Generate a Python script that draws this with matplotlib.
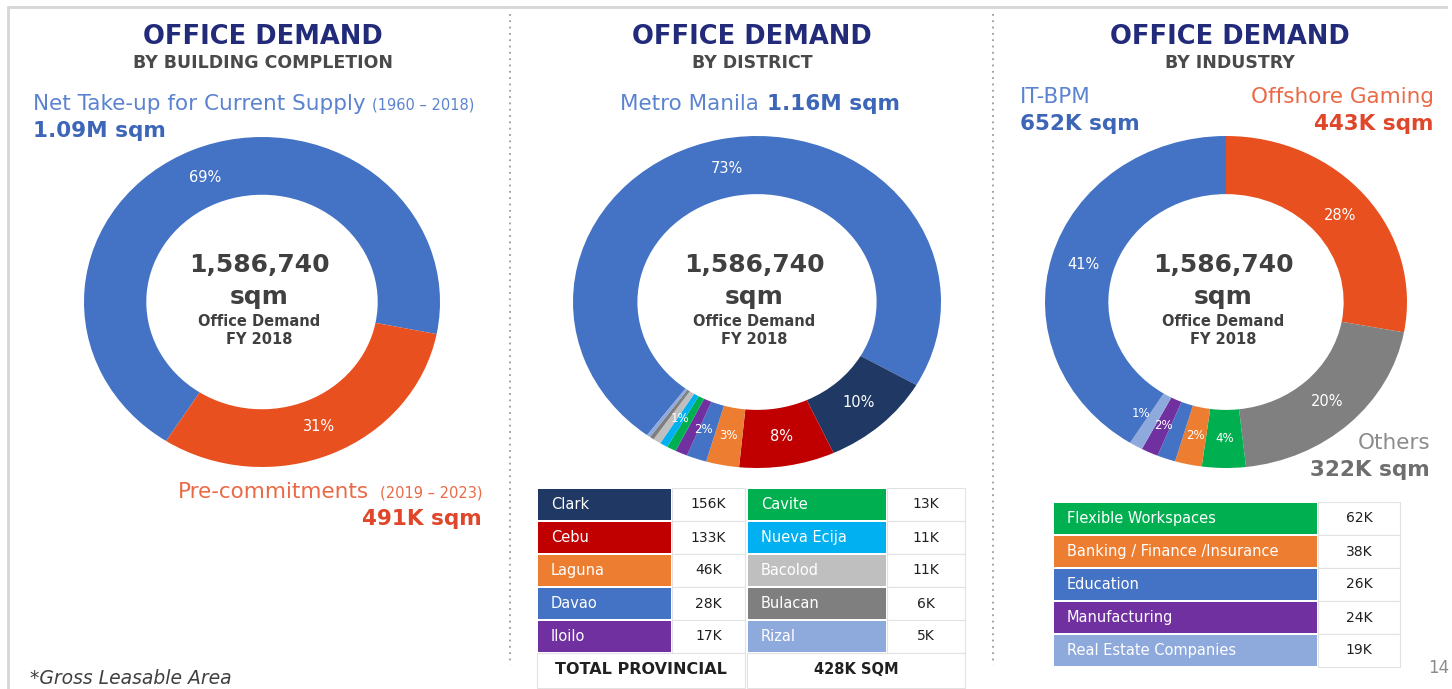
import matplotlib
matplotlib.use("Agg")
import matplotlib.pyplot as plt
from matplotlib.patches import Rectangle
import numpy as np

W, H = 1452, 689

# office demand, thousand sqm
total_label = '1,586,740'

completion_values = [1096, 491]
completion_pct = ['69%', '31%']
completion_colors = ['#4472C4', '#E8511F']

district_names = ['Metro Manila', 'Clark', 'Cebu', 'Laguna', 'Davao', 'Iloilo',
                  'Cavite', 'Nueva Ecija', 'Bacolod', 'Bulacan', 'Rizal']
district_values = [1160, 156, 133, 46, 28, 17, 13, 11, 11, 6, 5]
district_pct = ['73%', '10%', '8%', '3%', '2%', '1%', '', '', '', '', '']
district_colors = ['#4472C4', '#1F3864', '#C00000', '#ED7D31', '#4472C4', '#7030A0',
                   '#00B050', '#00B0F0', '#BFBFBF', '#7F7F7F', '#8EA9DB']
provincial_total = '428K SQM'

industry_names = ['Offshore Gaming', 'Others', 'Flexible Workspaces',
                  'Banking / Finance /Insurance', 'Education', 'Manufacturing',
                  'Real Estate Companies', 'IT-BPM']
industry_values = [443, 322, 62, 38, 26, 24, 19, 652]
industry_pct = ['28%', '20%', '4%', '2%', '', '2%', '1%', '41%']
industry_colors = ['#E8511F', '#808080', '#00B050', '#ED7D31', '#4472C4', '#7030A0',
                   '#8EA9DB', '#4472C4']

navy = '#222A7A'
grey_txt = '#404040'

fig = plt.figure(figsize=(W / 100, H / 100), dpi=100)
fig.patch.set_facecolor('white')
bg = fig.add_axes([0, 0, 1, 1])
bg.set_xlim(0, W)
bg.set_ylim(H, 0)
bg.axis('off')


def donut(cx, cy, rx, ry, values, colors, pcts, start):
    ax = fig.add_axes([(cx - rx) / W, 1 - (cy + ry) / H, 2 * rx / W, 2 * ry / H])
    wedges, _ = ax.pie(values, colors=colors, startangle=start, counterclock=False,
                       radius=1, wedgeprops=dict(width=0.35, linewidth=0))
    ax.set_xlim(-1, 1)
    ax.set_ylim(-1, 1)
    ax.set_aspect('auto')
    prev = None
    for w, p in zip(wedges, pcts):
        if not p:
            continue
        mid = (w.theta1 + w.theta2) / 2
        small = (w.theta2 - w.theta1) % 360 < 20
        # spread the crowded small labels a little (clockwise)
        if small and prev is not None and prev - mid < 10:
            mid = prev - 10
        prev = mid
        a = np.deg2rad(mid)
        ax.text(0.82 * np.cos(a), 0.82 * np.sin(a), p, color='white',
                fontsize=8.5 if small else 10.5, ha='center', va='center')
    bg.text(cx - 3, cy - 37, total_label, fontsize=18, fontweight='bold',
            color=grey_txt, ha='center', va='center')
    bg.text(cx - 3, cy - 5, 'sqm', fontsize=18, fontweight='bold',
            color=grey_txt, ha='center', va='center')
    bg.text(cx - 3, cy + 20, 'Office Demand', fontsize=10.5, fontweight='bold',
            color=grey_txt, ha='center', va='center')
    bg.text(cx - 3, cy + 38, 'FY 2018', fontsize=10.5, fontweight='bold',
            color=grey_txt, ha='center', va='center')


donut(262, 302, 178, 165, completion_values, completion_colors, completion_pct, -122.6)
donut(757, 302, 184, 166, district_values, district_colors, district_pct, 233.3)
donut(1226, 302, 181, 166, industry_values, industry_colors, industry_pct, 90)

# frame and separators
bg.plot([10, 1446], [7, 7], color='#D6D6D6', lw=2)
bg.plot([8, 8], [7, H], color='#D6D6D6', lw=2)
for x in [510, 993]:
    bg.plot([x, x], [14, 665], color='#9A9A9A', lw=1.3, linestyle=(0, (1, 2.5)))

# titles
for cx, sub in [(263, 'BY BUILDING COMPLETION'), (752, 'BY DISTRICT'), (1230, 'BY INDUSTRY')]:
    bg.text(cx, 37, 'OFFICE DEMAND', fontsize=18.5, fontweight='bold', color=navy,
            ha='center', va='center')
    bg.text(cx, 63, sub, fontsize=12.5, fontweight='bold', color='#4A4A4A',
            ha='center', va='center')

blue_lt = '#5B83D0'
blue_dk = '#3D66B8'
red_lt = '#EA6A47'
red_dk = '#E0472A'
fs = 15.5

# left panel annotations
bg.text(33, 104, 'Net Take-up for Current Supply', fontsize=fs, color=blue_lt,
        ha='left', va='center')
bg.text(372, 105, '(1960 \u2013 2018)', fontsize=10.5, color=blue_lt, ha='left', va='center')
bg.text(33, 131, '1.09M sqm', fontsize=fs, fontweight='bold', color=blue_dk,
        ha='left', va='center')
bg.text(369, 492, 'Pre-commitments', fontsize=fs, color=red_lt, ha='right', va='center')
bg.text(482, 493, '(2019 \u2013 2023)', fontsize=10.5, color=red_lt, ha='right', va='center')
bg.text(482, 519, '491K sqm', fontsize=fs, fontweight='bold', color=red_dk,
        ha='right', va='center')

# middle panel annotations
bg.text(759, 104, 'Metro Manila', fontsize=fs, color=blue_lt, ha='right', va='center')
bg.text(767, 104, '1.16M sqm', fontsize=fs, fontweight='bold', color=blue_dk,
        ha='left', va='center')

# right panel annotations
bg.text(1020, 97, 'IT-BPM', fontsize=fs, color=blue_lt, ha='left', va='center')
bg.text(1020, 124, '652K sqm', fontsize=fs, fontweight='bold', color=blue_dk,
        ha='left', va='center')
bg.text(1434, 97, 'Offshore Gaming', fontsize=fs, color=red_lt, ha='right', va='center')
bg.text(1434, 124, '443K sqm', fontsize=fs, fontweight='bold', color=red_dk,
        ha='right', va='center')
bg.text(1430, 443, 'Others', fontsize=fs, color='#8C8C8C', ha='right', va='center')
bg.text(1430, 470, '322K sqm', fontsize=fs, fontweight='bold', color='#6E6E6E',
        ha='right', va='center')


def table_row(x0, x1, x2, y0, h, name, color, value):
    bg.add_patch(Rectangle((x0 + 1, y0 + 1), x1 - x0 - 2, h - 2, facecolor=color,
                           edgecolor='none'))
    bg.add_patch(Rectangle((x1, y0), x2 - x1, h, facecolor='white',
                           edgecolor='#E2E2E2', lw=0.8))
    bg.text(x0 + 14, y0 + h / 2, name, fontsize=10.5, color='white', ha='left', va='center')
    bg.text((x1 + x2) / 2, y0 + h / 2, value, fontsize=10, color='#202020',
            ha='center', va='center')


# district table
rh = 33
for i in range(5):
    j = i + 1
    table_row(537, 672, 745, 488 + i * rh, rh, district_names[j], district_colors[j],
              f'{district_values[j]}K')
    k = i + 6
    table_row(747, 887, 965, 488 + i * rh, rh, district_names[k], district_colors[k],
              f'{district_values[k]}K')
bg.add_patch(Rectangle((537, 653), 208, 35, facecolor='white', edgecolor='#E2E2E2', lw=0.8))
bg.add_patch(Rectangle((747, 653), 218, 35, facecolor='white', edgecolor='#E2E2E2', lw=0.8))
bg.text(641, 670, 'TOTAL PROVINCIAL', fontsize=11.5, fontweight='bold', color='#202020',
        ha='center', va='center')
bg.text(856, 670, provincial_total, fontsize=10.5, fontweight='bold', color='#202020',
        ha='center', va='center')

# industry table
for i in range(5):
    j = i + 2
    table_row(1053, 1318, 1400, 502 + i * rh, rh, industry_names[j], industry_colors[j],
              f'{industry_values[j]}K')

bg.text(30, 678, '*Gross Leasable Area', fontsize=13.5, style='italic', color=grey_txt,
        ha='left', va='center')
bg.text(1428, 668, '14', fontsize=12, color='#8C8C8C', ha='left', va='center')

fig.savefig('out.png', dpi=100, facecolor='white')
